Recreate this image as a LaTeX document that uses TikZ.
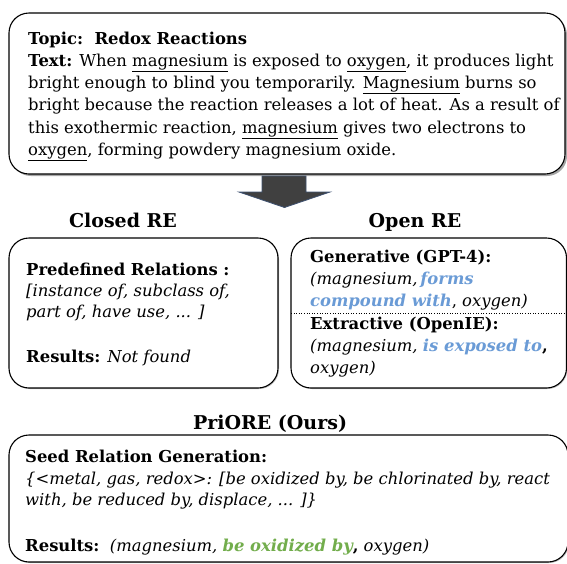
\documentclass[tikz,border=0pt]{standalone}
\usepackage{fontspec}
\setmainfont{DejaVu Serif}
\usetikzlibrary{shadows}
\definecolor{relblue}{HTML}{6A9BD6}
\definecolor{relgreen}{HTML}{72AD4C}
\definecolor{arrowfill}{HTML}{404040}
\definecolor{arrowedge}{HTML}{3E5170}
\begin{document}
\begin{tikzpicture}[x=1pt,y=-1pt,
  box/.style={draw=black, line width=1.1pt, rounded corners=20pt, fill=white, inner sep=0pt},
  topshadow/.style={drop shadow={shadow xshift=2pt, shadow yshift=-2pt, opacity=0.35, fill=black}},
  softshadow/.style={drop shadow={shadow xshift=1pt, shadow yshift=-1pt, opacity=0.25, fill=black}},
  txt/.style={anchor=base west, inner sep=0pt, font=\fontsize{16.4}{20}\selectfont},
  ttl/.style={anchor=base, inner sep=0pt, font=\fontsize{19}{24}\selectfont\bfseries}]
\useasboundingbox (0,0) rectangle (567,563);
% boxes
\node[box, topshadow, minimum width=556pt, minimum height=161pt] (topbox) at (287,93.5) {};
\node[box, softshadow, minimum width=269pt, minimum height=150pt] (closedbox) at (143.5,313) {};
\node[box, softshadow, minimum width=275.5pt, minimum height=150pt] (openbox) at (428.75,313) {};
\node[box, softshadow, minimum width=559pt, minimum height=127pt] (priorebox) at (288.5,498.5) {};
% dotted separator
\coordinate (sepL) at (291,313);
\coordinate (sepR) at (566.5,313);
\draw[dotted, line width=0.6pt] (sepL) -- (sepR);
% block arrow
\draw[fill=arrowfill, draw=arrowedge, line width=0.8pt]
  (262,176) -- (306,176) -- (306,192) -- (330,192) -- (284.5,207.5) -- (239,192) -- (262,192) -- cycle;
% top text
\node[txt] (t1) at (28,44) {\textbf{Topic:\ \ Redox Reactions}};
\node[txt] (t2) at (28,66.3) {\textbf{Text:} When \underline{magnesium} is exposed to \underline{oxygen}, it produces light};
\node[txt] (t3) at (28,88.6) {bright enough to blind you temporarily. \underline{Magnesium} burns so};
\node[txt] (t4) at (28,110.9) {bright because the reaction releases a lot of heat. As a result of};
\node[txt] (t5) at (28,133.2) {this exothermic reaction, \underline{magnesium} gives two electrons to};
\node[txt] (t6) at (28,155.5) {\underline{oxygen}, forming powdery magnesium oxide.};
% titles
\node[ttl] (closedttl) at (123,227) {Closed RE};
\node[ttl] (openttl) at (415,227) {Open RE};
\node[ttl] (priorettl) at (270,429) {PriORE (Ours)};
% closed RE text
\node[txt] (c1) at (26,275) {\textbf{Predefined Relations :}};
\node[txt] (c2) at (26,296) {\textit{[instance of, subclass of,}};
\node[txt] (c3) at (26,317) {\textit{part of, have use, ... ]}};
\node[txt] (c4) at (26,362) {\textbf{Results:} \textit{Not found}};
% open RE text
\node[txt] (o1) at (310,262) {\textbf{Generative (GPT-4):}};
\node[txt] (o2) at (310,284) {\textit{(magnesium,\,\textbf{\color{relblue}forms}}};
\node[txt] (o3) at (310,306) {\textbf{\textit{\color{relblue}compound with}},\textit{ oxygen)}};
\node[txt] (o4) at (310,329) {\textbf{Extractive (OpenIE):}};
\node[txt] (o5) at (310,351) {\textit{(magnesium, \textbf{\color{relblue}is exposed to}}\textbf{,}};
\node[txt] (o6) at (310,373) {\textit{oxygen)}};
% PriORE text
\node[txt] (p1) at (25,462) {\textbf{Seed Relation Generation:}};
\node[txt] (p2) at (25,484) {\textit{\{<metal, gas, redox>: [be oxidized by, be chlorinated by, react}};
\node[txt] (p3) at (25,505) {\textit{with, be reduced by, displace, ... ]\}}};
\node[txt] (p4) at (25,551) {\textbf{Results:}\ \ \textit{(magnesium, \textbf{\color{relgreen}be oxidized by}}\textbf{,} \textit{oxygen)}};
\end{tikzpicture}
\end{document}
